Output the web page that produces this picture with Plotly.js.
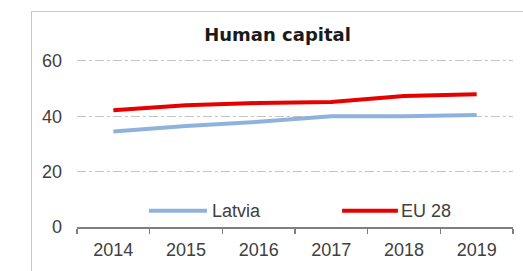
<!DOCTYPE html>
<html>
<head>
<meta charset="utf-8">
<script src="https://cdn.plot.ly/plotly-3.0.1.min.js"></script>
<style>
  html, body { margin: 0; padding: 0; background: #ffffff; }
  #wrap { position: relative; width: 523px; height: 271px; overflow: hidden; }
  #chart { position: absolute; left: 0; top: 0; width: 523px; height: 271px; }
  #frame { position: absolute; left: 31px; top: 11px; width: 600px; height: 400px;
           border-left: 1px solid #c8c8c8; border-top: 1px solid #c8c8c8; pointer-events: none; }
</style>
</head>
<body>
<div id="wrap">
  <div id="chart"></div>
  <div id="frame"></div>
</div>
<script>
const years = ["2014", "2015", "2016", "2017", "2018", "2019"];
const latviaName = "Latvia";
const latvia = [34.5, 36.5, 38, 40, 40, 40.5];
const euName = "EU 28";
const eu28 = [42.2, 44, 44.8, 45.2, 47.3, 48];
const yTicks = [0, 20, 40, 60];
const chartTitle = "Human capital";

const font = "Liberation Sans, Arial, sans-serif";
const latviaColor = "#8fb2dd";
const euColor = "#e60000";

const traces = [
  { x: years, y: latvia, name: latviaName, type: "scatter", mode: "lines",
    line: { color: latviaColor, width: 4 }, showlegend: false },
  { x: years, y: eu28, name: euName, type: "scatter", mode: "lines",
    line: { color: euColor, width: 4 }, showlegend: false }
];

// in-plot legend (line sample + label), placed in paper coordinates
const legendY = 0.096;
const legendItems = [
  { name: latviaName, color: latviaColor, x0: 0.165, x1: 0.298, tx: 0.305 },
  { name: euName, color: euColor, x0: 0.608, x1: 0.736, tx: 0.738 }
];

const layout = {
  width: 523, height: 271,
  margin: { l: 77, r: 10, t: 59, b: 44 },
  paper_bgcolor: "#ffffff", plot_bgcolor: "#ffffff",
  font: { family: font, color: "#404040", size: 18 },
  title: { text: "<b>" + chartTitle + "</b>",
           font: { family: "DejaVu Sans, sans-serif", size: 18, color: "#1a1a1a" },
           xref: "paper", x: 0.46, xanchor: "center",
           yref: "container", y: 0.871, yanchor: "middle" },
  xaxis: { type: "category", range: [-0.5, 5.5], tickson: "boundaries",
           ticks: "outside", ticklen: 5, tickwidth: 1.5, tickcolor: "#7f7f7f",
           showline: true, linecolor: "#7f7f7f", linewidth: 1.5,
           showgrid: false, zeroline: false, fixedrange: true,
           tickfont: { size: 18, color: "#404040" }, ticklabelstandoff: 6 },
  yaxis: { range: [0, 60.7], tickvals: yTicks, showline: false, ticks: "",
           showgrid: true, gridcolor: "#c4c4c4", gridwidth: 1, griddash: "dashdot",
           zeroline: false, fixedrange: true,
           tickfont: { size: 18, color: "#404040" }, ticklabelstandoff: 14 },
  showlegend: false,
  shapes: legendItems.map(function (it) {
    return { type: "line", xref: "paper", yref: "paper",
             x0: it.x0, x1: it.x1, y0: legendY, y1: legendY,
             line: { color: it.color, width: 4 } };
  }),
  annotations: legendItems.map(function (it) {
    return { text: it.name, xref: "paper", yref: "paper", x: it.tx, y: legendY,
             xanchor: "left", yanchor: "middle", showarrow: false,
             font: { size: 18, color: "#404040" } };
  })
};

Plotly.newPlot("chart", traces, layout, { staticPlot: true, displayModeBar: false });
</script>
</body>
</html>
